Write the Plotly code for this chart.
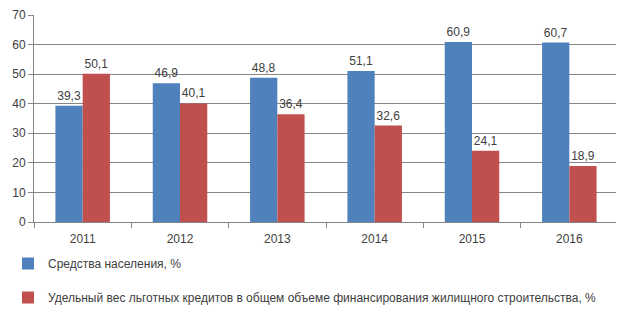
import plotly.graph_objects as go

years = ["2011", "2012", "2013", "2014", "2015", "2016"]
population_funds = [39.3, 46.9, 48.8, 51.1, 60.9, 60.7]
preferential_loans = [50.1, 40.1, 36.4, 32.6, 24.1, 18.9]
series_names = ["Средства населения, %",
                "Удельный вес льготных кредитов в общем объеме финансирования жилищного строительства, %"]

def fmt(v):
    return f"{v:.1f}".replace(".", ",")

fig = go.Figure()
fig.add_trace(go.Bar(x=years, y=population_funds, name=series_names[0],
                     marker=dict(color="#4F81BD", line=dict(width=0)),
                     text=[fmt(v) for v in population_funds], textposition="outside",
                     textfont=dict(size=12, color="#404040"), cliponaxis=False,
                     legendgroup="a"))
fig.add_trace(go.Bar(x=years, y=preferential_loans, name=series_names[1],
                     marker=dict(color="#C0504D", line=dict(width=0)),
                     text=[fmt(v) for v in preferential_loans], textposition="outside",
                     textfont=dict(size=12, color="#404040"), cliponaxis=False,
                     legendgroup="b"))

# page body has an 8px default margin, so the figure is sized 616x312
fig.update_layout(
    width=616, height=312,
    margin=dict(l=26, r=6, t=7, b=98, autoexpand=False),
    paper_bgcolor="white", plot_bgcolor="white",
    font=dict(family="Liberation Sans", size=12, color="#404040"),
    barmode="group", bargap=0.44, bargroupgap=0,
    showlegend=True,
    legend=dict(orientation="v", xref="container", yref="container",
                x=0.0, xanchor="left", y=0.2275, yanchor="top",
                tracegroupgap=15, font=dict(size=12, color="#404040"),
                itemwidth=30, traceorder="grouped", bgcolor="rgba(0,0,0,0)"),
)
fig.update_xaxes(showline=True, linecolor="#868686", linewidth=1,
                 ticks="outside", tickson="boundaries", ticklen=5, tickcolor="#868686",
                 ticklabelstandoff=6,
                 tickfont=dict(size=12, color="#404040"), showgrid=False, automargin=False)
fig.update_yaxes(range=[0, 70], dtick=10, showgrid=True, gridcolor="#868686", gridwidth=1,
                 showline=True, linecolor="#868686", ticks="outside", ticklen=5,
                 tickcolor="#868686", tickfont=dict(size=12, color="#404040"),
                 zeroline=False, automargin=False)

fig.write_html("out.html")
